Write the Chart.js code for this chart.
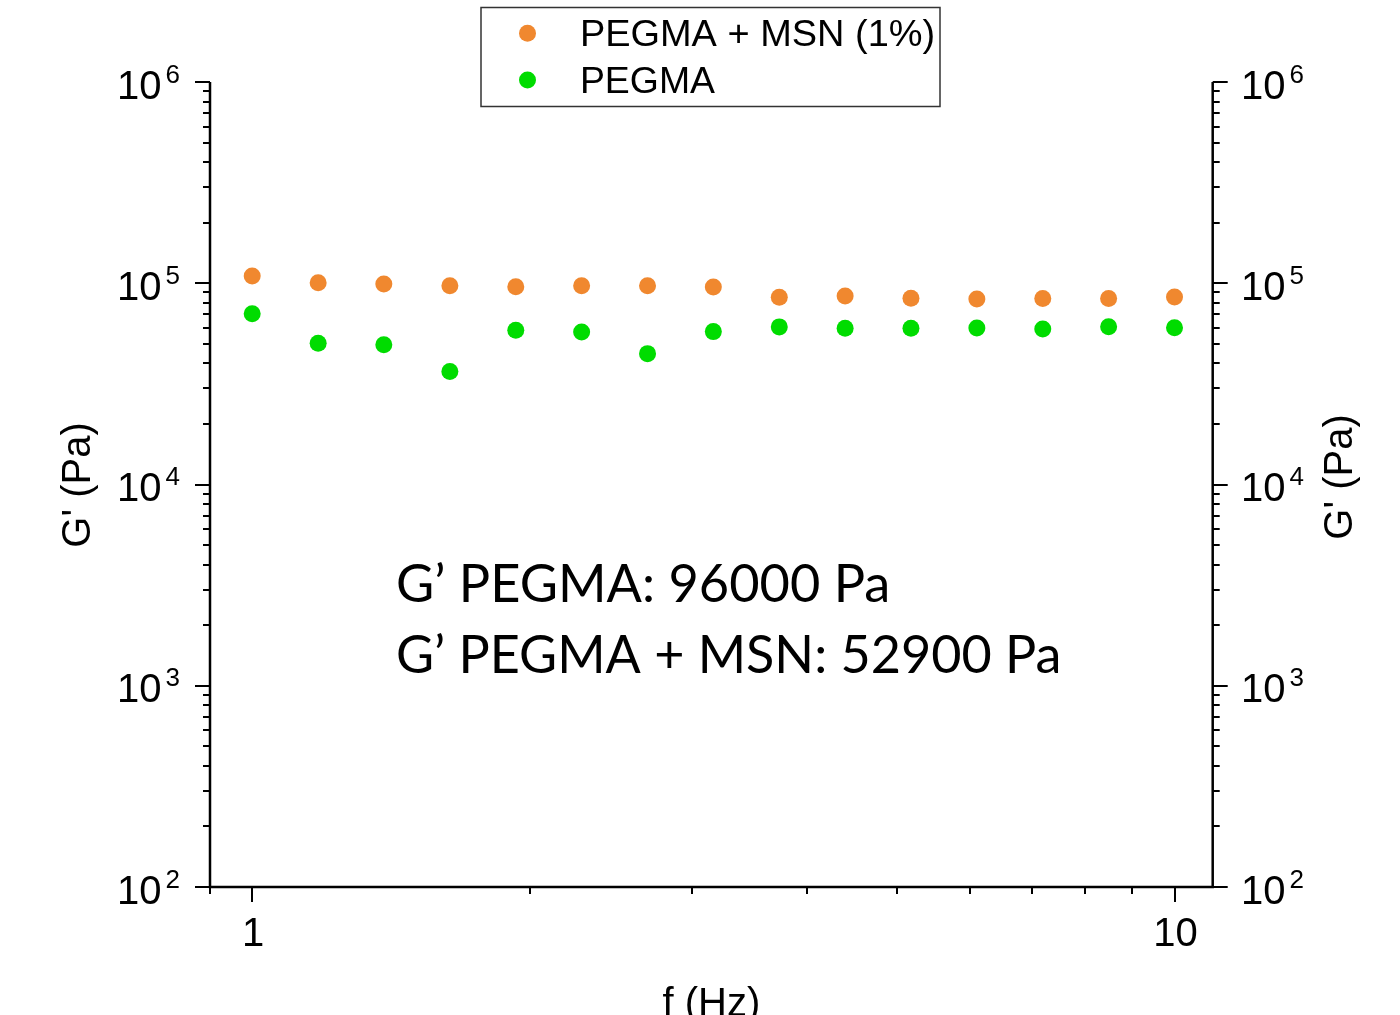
<!DOCTYPE html>
<html>
<head>
<meta charset="utf-8">
<script src="https://cdn.jsdelivr.net/npm/chart.js@4/dist/chart.umd.min.js"></script>
<style>
html,body{margin:0;padding:0;background:#fff;overflow:hidden;}
canvas{display:block;}
</style>
</head>
<body>
<canvas id="c" width="1400" height="1015"></canvas>
<script>
// ---- data ----
const frequencies = [1.000, 1.179, 1.389, 1.638, 1.931, 2.276, 2.683, 3.162, 3.728, 4.394, 5.179, 6.105, 7.197, 8.483, 10.00];
const pegmaMsn = [108700, 100700, 99200, 97300, 96200, 97300, 97300, 95900, 85100, 86500, 84300, 83600, 83900, 83900, 85500];
const pegma = [70600, 50300, 49500, 36400, 58400, 57300, 44700, 57500, 60700, 59800, 59800, 60000, 59300, 60800, 60100];
const seriesLabels = ['PEGMA + MSN (1%)', 'PEGMA'];
const seriesColors = ['#F0882F', '#00DC00'];
const xTickValues = [1, 10];
const xTickLabels = ['1', '10'];
const yTickValues = [1e2, 1e3, 1e4, 1e5, 1e6];
const yTickExponents = ['2', '3', '4', '5', '6'];
const xTitle = 'f (Hz)';
const yTitle = "G' (Pa)";
const annotationLines = ['G\u2019 PEGMA: 96000 Pa', 'G\u2019 PEGMA + MSN: 52900 Pa'];

const FONT = '"Liberation Sans", Arial, sans-serif';

function fitText(ctx, t, xLeft, base, w) {
  const m = ctx.measureText(t);
  const ink = m.actualBoundingBoxLeft + m.actualBoundingBoxRight;
  const s = w / ink;
  ctx.save();
  ctx.translate(xLeft + m.actualBoundingBoxLeft * s, base);
  ctx.scale(s, 1);
  ctx.fillText(t, 0, 0);
  ctx.restore();
}

const framePlugin = {
  id: 'frame',
  afterDraw(chart) {
    const ctx = chart.ctx, a = chart.chartArea;
    const xs = chart.scales.x, ys = chart.scales.y;
    ctx.save();
    ctx.strokeStyle = '#000';
    ctx.fillStyle = '#000';
    // axis lines
    ctx.lineWidth = 2.5;
    ctx.beginPath();
    ctx.moveTo(a.left, a.top); ctx.lineTo(a.left, a.bottom);
    ctx.moveTo(a.left - 1.25, a.bottom); ctx.lineTo(a.right + 1.25, a.bottom);
    ctx.moveTo(a.right, a.top); ctx.lineTo(a.right, a.bottom);
    ctx.stroke();
    // x ticks
    ctx.lineWidth = 2;
    ctx.beginPath();
    for (let n = -1; n <= 1; n++) {
      for (let k = 1; k <= 9; k++) {
        const v = k * Math.pow(10, n);
        if (v < xs.min * 0.999 || v > xs.max * 1.001) continue;
        const px = Math.round(xs.getPixelForValue(v));
        const len = k === 1 ? 15 : 7;
        ctx.moveTo(px, a.bottom); ctx.lineTo(px, a.bottom + len);
      }
    }
    // y ticks (both sides)
    for (let n = 2; n <= 6; n++) {
      for (let k = 1; k <= 9; k++) {
        const v = k * Math.pow(10, n);
        if (v > ys.max * 1.001) continue;
        const py = Math.round(ys.getPixelForValue(v));
        const len = k === 1 ? 15 : 7;
        ctx.moveTo(a.left - len, py); ctx.lineTo(a.left, py);
        ctx.moveTo(a.right, py); ctx.lineTo(a.right + len, py);
      }
    }
    ctx.stroke();

    // y tick labels
    ctx.textBaseline = 'alphabetic';
    ctx.textAlign = 'left';
    yTickValues.forEach((v, i) => {
      const py = ys.getPixelForValue(v);
      ctx.font = '40px ' + FONT;
      ctx.fillText('10', 117, py + 16.6);
      ctx.fillText('10', 1241, py + 16.6);
      ctx.font = '26px ' + FONT;
      ctx.fillText(yTickExponents[i], 165.5, py + 0.5);
      ctx.fillText(yTickExponents[i], 1289.5, py + 0.5);
    });
    // x tick labels
    ctx.font = '40px ' + FONT;
    ctx.textAlign = 'center';
    xTickValues.forEach((v, i) => {
      const px = xs.getPixelForValue(v);
      ctx.fillText(xTickLabels[i], px + 1, 946);
    });
    // axis titles
    ctx.fillText(xTitle, (a.left + a.right) / 2, 1016);
    ctx.save();
    ctx.translate(90, 485); ctx.rotate(-Math.PI / 2);
    ctx.fillText(yTitle, 0, 0);
    ctx.restore();
    ctx.save();
    ctx.translate(1352, 477); ctx.rotate(-Math.PI / 2);
    ctx.fillText(yTitle, 0, 0);
    ctx.restore();

    // legend
    ctx.lineWidth = 1.5;
    ctx.strokeStyle = '#333';
    ctx.strokeRect(481, 7.5, 459, 99);
    const rows = [33.3, 80];
    const legendW = [351, 133];
    chart.data.datasets.forEach((ds, i) => {
      ctx.beginPath();
      ctx.fillStyle = ds.backgroundColor;
      ctx.arc(527.5, rows[i], 8.5, 0, Math.PI * 2);
      ctx.fill();
      ctx.fillStyle = '#000';
      ctx.font = '36px ' + FONT;
      ctx.textAlign = 'left';
      fitText(ctx, ds.label, 582, rows[i] + 13, legendW[i]);
    });

    // annotation
    const targets = [{x: 398, base: 601.7, w: 489}, {x: 398, base: 672.7, w: 660}];
    ctx.font = '53px Lato, "Open Sans", sans-serif';
    ctx.textAlign = 'left';
    annotationLines.forEach((t, i) => {
      fitText(ctx, t, targets[i].x, targets[i].base, targets[i].w);
    });
    ctx.restore();
  }
};

const hidden = {ticks: {display: false}, grid: {display: false}, border: {display: false}};

new Chart(document.getElementById('c'), {
  type: 'scatter',
  data: {
    datasets: [
      {label: seriesLabels[0], data: frequencies.map((f, i) => ({x: f, y: pegmaMsn[i]})),
       backgroundColor: seriesColors[0], borderWidth: 0, pointRadius: 8.5, pointHoverRadius: 8.5},
      {label: seriesLabels[1], data: frequencies.map((f, i) => ({x: f, y: pegma[i]})),
       backgroundColor: seriesColors[1], borderWidth: 0, pointRadius: 8.5, pointHoverRadius: 8.5}
    ]
  },
  options: {
    responsive: false,
    animation: false,
    events: [],
    layout: {padding: {top: 82, left: 0, right: 0, bottom: 0}},
    plugins: {legend: {display: false}, tooltip: {enabled: false}},
    scales: {
      x: Object.assign({type: 'logarithmic', position: 'bottom', min: 0.9, max: 11,
        afterFit: s => { s.height = 128; }}, hidden),
      y: Object.assign({type: 'logarithmic', position: 'left', min: 100, max: 1e6,
        afterFit: s => { s.width = 210; }}, hidden),
      y2: Object.assign({type: 'logarithmic', position: 'right', min: 100, max: 1e6,
        afterFit: s => { s.width = 187.3; }}, hidden)
    }
  },
  plugins: [framePlugin]
});
</script>
</body>
</html>
